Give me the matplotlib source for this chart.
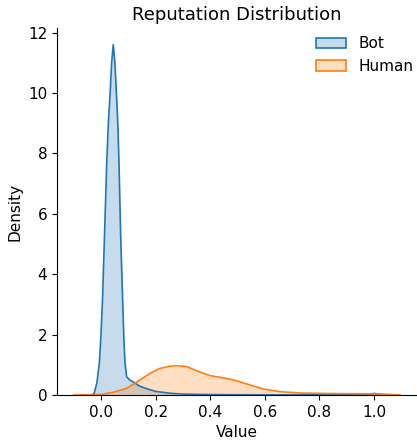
import numpy as np
import matplotlib.pyplot as plt
from matplotlib.patches import Patch
from matplotlib.colors import to_rgba

# Curves (value, density)
bot_x = [-0.035, -0.025, -0.015, -0.006, 0.0, 0.006, 0.014, 0.021, 0.027, 0.033,
         0.039, 0.045, 0.051, 0.057, 0.062, 0.066, 0.072, 0.079, 0.084, 0.088,
         0.094, 0.105, 0.117, 0.14, 0.17, 0.2, 0.25, 0.3, 0.35, 0.45, 0.6, 0.9,
         0.97, 1.0, 1.03, 1.05]
bot_y = [0.0, 0.05, 0.4, 1.05, 2.0, 3.25, 5.6, 7.67, 9.0, 9.9,
         11.0, 11.6, 11.0, 9.9, 8.9, 7.67, 5.3, 3.25, 1.8, 1.05,
         0.6, 0.5, 0.44, 0.3, 0.2, 0.12, 0.06, 0.03, 0.02, 0.01, 0.005, 0.005,
         0.02, 0.05, 0.02, 0.0]

human_x = [-0.10, -0.03, 0.0, 0.045, 0.094, 0.143, 0.18, 0.216, 0.25, 0.277,
           0.314, 0.35, 0.4, 0.46, 0.497, 0.546, 0.594, 0.656, 0.73, 0.827,
           0.95, 1.02, 1.095]
human_y = [0.0, 0.01, 0.02, 0.09, 0.22, 0.5, 0.72, 0.88, 0.95, 0.97,
           0.94, 0.8, 0.64, 0.55, 0.47, 0.33, 0.2, 0.11, 0.065, 0.05,
           0.04, 0.03, 0.005]

labels = ['Bot', 'Human']
colors = ['#1f77b4', '#ff7f0e']

fig = plt.figure(figsize=(4.17, 4.45), dpi=100)
ax = fig.add_axes([57 / 417, 1 - 395 / 445, 360 / 417, 367 / 445])

handles = []
for xs, ys, c, lab in zip([bot_x, human_x], [bot_y, human_y], colors, labels):
    ax.plot(xs, ys, color=c, lw=1.2)
    ax.fill_between(xs, ys, color=c, alpha=0.25, lw=0)
    handles.append(Patch(facecolor=to_rgba(c, 0.25), edgecolor=c, lw=1.2, label=lab))

ax.set_xlim(-0.161, 1.157)
ax.set_ylim(0, 12.15)
ax.set_xticks(np.arange(0, 1.01, 0.2))
ax.set_yticks(range(0, 13, 2))
ax.tick_params(labelsize=11)
ax.set_xlabel('Value', fontsize=11)
ax.set_ylabel('Density', fontsize=11)
ax.spines['top'].set_visible(False)
ax.spines['right'].set_visible(False)
ax.set_title('Reputation Distribution', fontsize=13)

ax.legend(handles=handles, frameon=False, fontsize=11, loc='upper left',
          bbox_to_anchor=(0.68, 1.015), handlelength=2.0, handletextpad=0.8)

fig.savefig('out.png', dpi=100)
